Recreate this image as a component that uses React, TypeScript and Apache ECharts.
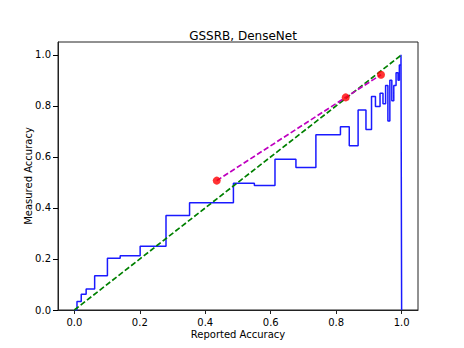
import React, { useEffect, useRef } from "react";
import * as echarts from "echarts";

const titleText = "GSSRB, DenseNet";
const xName = "Reported Accuracy";
const yName = "Measured Accuracy";
const tickValues = [0, 0.2, 0.4, 0.6, 0.8, 1.0];

// blue step curve: level stepY[i] holds on [stepX[i], stepX[i+1]]
const stepX = [0, 0.008, 0.021, 0.036, 0.062, 0.101, 0.14, 0.201, 0.28, 0.352, 0.486, 0.55, 0.613, 0.677, 0.738, 0.813, 0.84, 0.867, 0.891, 0.908, 0.92, 0.934, 0.943, 0.951, 0.958, 0.964, 0.97, 0.976, 0.983, 0.989, 0.993, 0.998, 1.0];
const stepY = [0, 0.033, 0.062, 0.082, 0.134, 0.203, 0.213, 0.25, 0.37, 0.42, 0.497, 0.488, 0.591, 0.558, 0.687, 0.718, 0.644, 0.784, 0.707, 0.836, 0.797, 0.849, 0.808, 0.88, 0.74, 0.9, 0.82, 0.88, 0.93, 0.9, 0.96, 1.0, 0];

// diagonal reference
const diagX = [0, 1];
const diagY = [0, 1];

// calibration points (red dots, magenta dashed)
const calX = [0.435, 0.829, 0.937];
const calY = [0.507, 0.833, 0.922];

const FONT = "DejaVu Sans";

export default function App() {
  const ref = useRef<HTMLDivElement>(null);
  useEffect(() => {
    if (!ref.current) return;
    const chart = echarts.init(ref.current, undefined, { renderer: "svg" });
    const zip = (xs: number[], ys: number[]) => xs.map((x, i) => [x, ys[i]]);
    const fmt = (v: number) => (tickValues.some((t) => Math.abs(t - v) < 1e-6) ? v.toFixed(1) : "");
    const nameStyle = { fontFamily: FONT, fontSize: 10, color: "#000" };
    const labelStyle = { margin: 7, fontFamily: FONT, fontSize: 10, color: "#000", formatter: fmt };
    chart.setOption({
      animation: false,
      backgroundColor: "#ffffff",
      textStyle: { fontFamily: FONT },
      title: {
        text: titleText,
        left: 238,
        top: 25,
        textAlign: "center",
        textStyle: { fontFamily: FONT, fontSize: 12, fontWeight: "normal", color: "#000" },
      },
      grid: {
        left: 58,
        right: 46,
        top: 42,
        bottom: 38,
        show: true,
        borderColor: "#222",
        borderWidth: 1,
        backgroundColor: "transparent",
      },
      xAxis: {
        type: "value",
        min: -0.05,
        max: 1.05,
        interval: 0.05,
        name: xName,
        nameGap: 19,
        nameLocation: "middle",
        nameMoveOverlap: false,
        nameTextStyle: nameStyle,
        axisLine: { show: true, onZero: false, lineStyle: { color: "#222", width: 1 } },
        splitLine: { show: false },
        axisTick: { show: true, length: 4, customValues: tickValues, lineStyle: { color: "#222", width: 1 } },
        axisLabel: { ...labelStyle, customValues: tickValues },
      },
      yAxis: {
        type: "value",
        position: "left",
        min: 0,
        max: 1.05,
        interval: 0.2,
        name: yName,
        nameGap: 25,
        nameLocation: "middle",
        nameMoveOverlap: false,
        nameTextStyle: nameStyle,
        axisLine: { show: true, onZero: false, lineStyle: { color: "#222", width: 1 } },
        splitLine: { show: false },
        axisTick: { show: true, inside: false, length: 5, lineStyle: { color: "#000", width: 1 } },
        axisLabel: { ...labelStyle, showMaxLabel: false },
      },
      series: [
        {
          type: "line",
          data: zip(stepX, stepY),
          step: "end",
          showSymbol: false,
          symbol: "none",
          lineStyle: { color: "#1a1aff", width: 1.5 },
          z: 2,
        },
        {
          type: "line",
          data: zip(diagX, diagY),
          showSymbol: false,
          symbol: "none",
          lineStyle: { color: "#008000", width: 1.7, type: [5.5, 2.5] },
          z: 3,
        },
        {
          type: "line",
          data: zip(calX, calY),
          showSymbol: false,
          symbol: "none",
          lineStyle: { color: "#bf00bf", width: 1.7, type: [5.5, 2.5] },
          z: 4,
        },
        {
          type: "scatter",
          data: zip(calX, calY),
          symbol: "circle",
          symbolSize: 8,
          itemStyle: { color: "#ff0000" },
          z: 5,
        },
      ],
    });
    return () => chart.dispose();
  }, []);
  return (
    <div
      ref={ref}
      style={{ position: "fixed", left: 0, top: 0, width: 464, height: 348, background: "#fff" }}
    />
  );
}
